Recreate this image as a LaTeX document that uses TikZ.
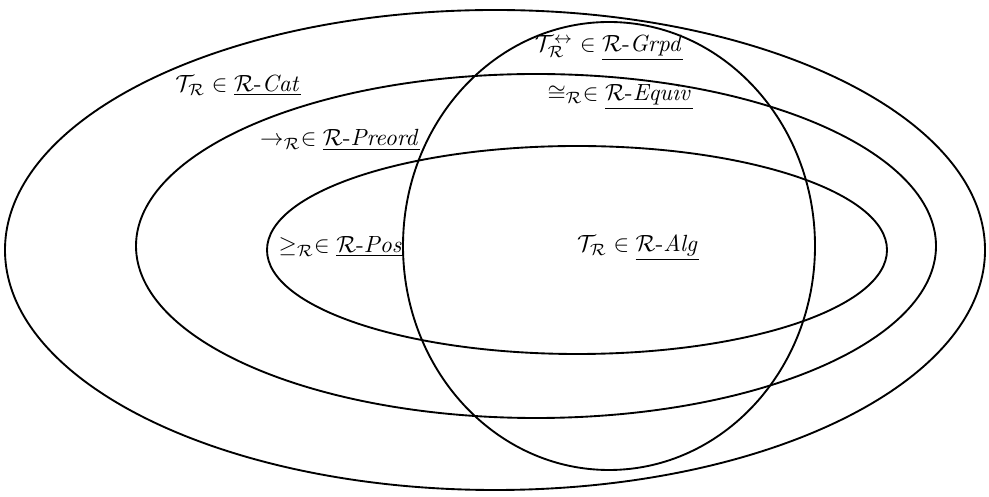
\documentclass[tikz,border=0pt]{standalone}
\usepackage{amsmath,amssymb}
\usepackage{tikz}
\tikzset{
  setln/.style ={line width=0.8pt},
  lbl/.style   ={inner sep=1pt, font=\normalsize},
}
\newcommand{\rcls}[1]{\underline{\mathcal{R}\text{-}\mathit{#1}}}

\begin{document}
\begin{tikzpicture}[x=0.15mm, y=-0.15mm]
  \useasboundingbox (0,0) rectangle (989,497);
  % the four classes
  \draw[setln] (495,250) ellipse [x radius=490, y radius=240];
  \draw[setln] (536,246) ellipse [x radius=400, y radius=172];
  \draw[setln] (577,250) ellipse [x radius=310, y radius=104];
  \draw[setln] (609,246) ellipse [x radius=206, y radius=224];
  % labels
  \node[lbl] (cat)    at (238,86)  {$\mathcal{T}_{\mathcal{R}} \in \rcls{Cat}$};
  \node[lbl] (grpd)   at (609,48)  {$\mathcal{T}^{\leftrightarrow}_{\mathcal{R}} \in \rcls{Grpd}$};
  \node[lbl] (equiv)  at (620,97)  {$\cong_{\mathcal{R}} \in \rcls{Equiv}$};
  \node[lbl] (preord) at (340,140) {$\to_{\mathcal{R}} \in \rcls{Preord}$};
  \node[lbl] (pos)    at (341,247) {$\geq_{\mathcal{R}} \in \rcls{Pos}$};
  \node[lbl] (alg)    at (638,248) {$\mathcal{T}_{\mathcal{R}} \in \rcls{Alg}$};
\end{tikzpicture}
\end{document}
